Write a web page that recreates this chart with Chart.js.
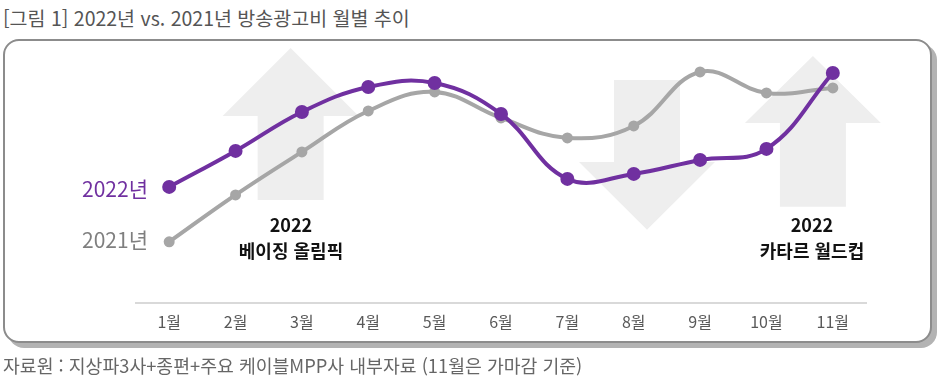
<!DOCTYPE html>
<html lang="ko">
<head>
<meta charset="utf-8">
<script src="https://cdn.jsdelivr.net/npm/chart.js@4/dist/chart.umd.min.js"></script>
<style>
    html, body { margin: 0; padding: 0; background: #fff; }
    body { width: 940px; height: 388px; position: relative; overflow: hidden; font-family: "Noto Sans CJK KR", "Noto Sans", sans-serif; }
    .title { position: absolute; left: 3px; top: 3px; font-size: 19.5px; color: #555; white-space: nowrap; }
    .frame { position: absolute; left: 3px; top: 39px; width: 925px; height: 300px; border: 2px solid #8c8c8c; border-radius: 16px; box-shadow: 5px 5px 0 #b3b3b3; background: #fff; }
    .source { position: absolute; left: 3px; top: 352px; font-size: 18.3px; color: #666; white-space: nowrap; }
    .series-label { position: absolute; right: 792px; font-size: 21px; white-space: nowrap; }
    .note { position: absolute; width: 200px; text-align: center; font-size: 18px; font-weight: bold; color: #111; line-height: 26px; }
    #chart { position: absolute; left: 0; top: 0; }
</style>
</head>
<body>
<div class="title">[그림 1] 2022년 vs. 2021년 방송광고비 월별 추이</div>
<div class="frame"></div>
<canvas id="chart" width="940" height="388"></canvas>
<div class="series-label" style="top:173px; color:#7030a0;">2022년</div>
<div class="series-label" style="top:224px; color:#7f7f7f;">2021년</div>
<div class="note" style="left:191px; top:211px;">2022<br>베이징 올림픽</div>
<div class="note" style="left:712px; top:211px;">2022<br>카타르 월드컵</div>
<div class="source">자료원 : 지상파3사+종편+주요 케이블MPP사 내부자료 (11월은 가마감 기준)</div>

<script>
// 월별 방송광고비 추이 (상대 지수, 그림에서 읽은 값)
const months = ['1월', '2월', '3월', '4월', '5월', '6월', '7월', '8월', '9월', '10월', '11월'];
const values2022 = [116, 152, 191, 216, 220, 189, 124, 129, 143, 154, 230];
const values2021 = [61, 108, 151, 192, 211, 185, 165, 177, 231, 210, 215];

// 배경 화살표: 위치(카테고리 인덱스), 상단/하단 값
const arrowAt = [1.83, 7.2, 9.7];
const arrowTip = [255, 73, 247];
const arrowNeck = [187, 141, 180];
const arrowEnd = [103, 223, 96];

const purple = '#7030a0';
const gray = '#a6a6a6';

const arrowPlugin = {
    id: 'bgArrows',
    beforeDatasetsDraw(chart) {
        const { ctx, scales: { x, y } } = chart;
        const step = x.getPixelForValue(1) - x.getPixelForValue(0);
        ctx.save();
        ctx.fillStyle = '#eeeeee';
        arrowAt.forEach((pos, i) => {
            const cx = x.getPixelForValue(0) + pos * step;
            const head = 68, shaft = 33;
            const tip = y.getPixelForValue(arrowTip[i]);
            const neck = y.getPixelForValue(arrowNeck[i]);
            const end = y.getPixelForValue(arrowEnd[i]);
            ctx.beginPath();
            ctx.moveTo(cx, tip);
            ctx.lineTo(cx + head, neck);
            ctx.lineTo(cx + shaft, neck);
            ctx.lineTo(cx + shaft, end);
            ctx.lineTo(cx - shaft, end);
            ctx.lineTo(cx - shaft, neck);
            ctx.lineTo(cx - head, neck);
            ctx.closePath();
            ctx.fill();
        });
        ctx.restore();
    }
};

new Chart(document.getElementById('chart'), {
    type: 'line',
    data: {
        labels: months,
        datasets: [{
            label: '2022년',
            data: values2022,
            borderColor: purple,
            backgroundColor: purple,
            borderWidth: 4,
            pointRadius: 7,
            pointBackgroundColor: purple,
            pointBorderWidth: 0,
            tension: 0.4,
            clip: false
        }, {
            label: '2021년',
            data: values2021,
            borderColor: gray,
            backgroundColor: gray,
            borderWidth: 4,
            pointRadius: 5.5,
            pointBackgroundColor: gray,
            pointBorderWidth: 0,
            tension: 0.4,
            clip: false
        }]
    },
    options: {
        responsive: false,
        animation: false,
        layout: { padding: { left: 136, right: 74, top: 43, bottom: 46 } },
        plugins: {
            legend: { display: false },
            tooltip: { enabled: false }
        },
        scales: {
            y: { display: false, min: 0, max: 260 },
            x: {
                offset: true,
                grid: { display: false, drawTicks: false },
                border: { display: true, color: '#d9d9d9', width: 2 },
                ticks: {
                    color: '#595959',
                    padding: 10,
                    font: { family: '"Noto Sans CJK KR", "Noto Sans", sans-serif', size: 16 }
                }
            }
        }
    },
    plugins: [arrowPlugin]
});
</script>
</body>
</html>
